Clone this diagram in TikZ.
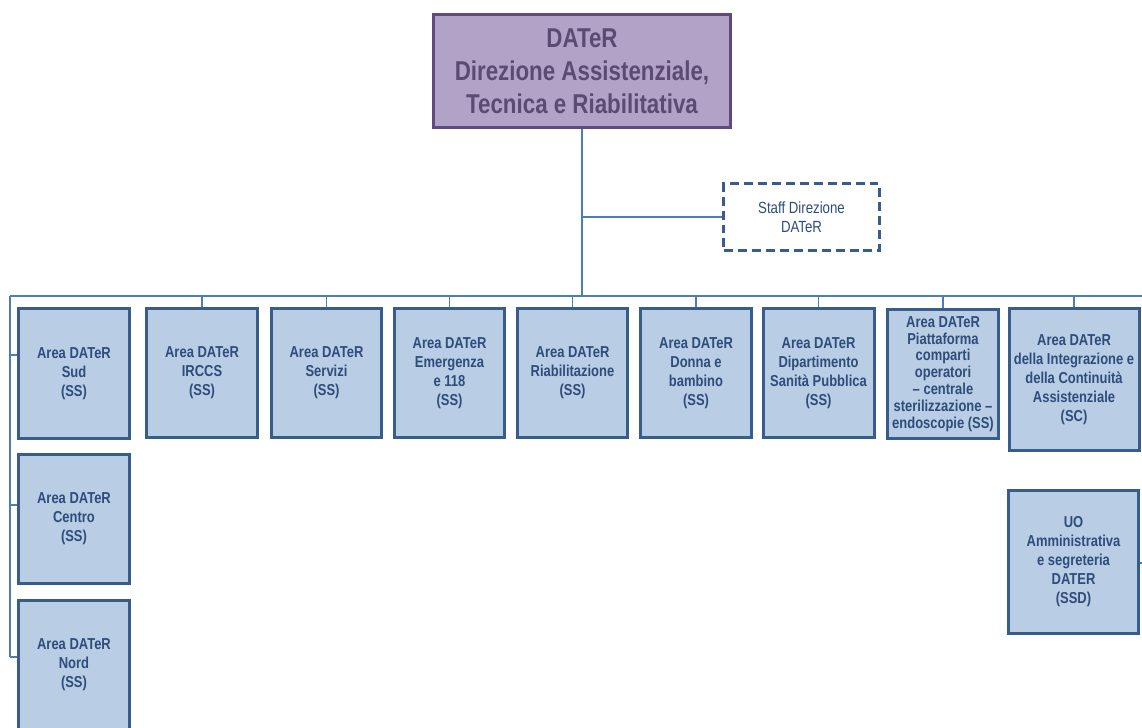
\documentclass[tikz,border=0pt]{standalone}
\usepackage{fontspec}
\setmainfont{Liberation Sans}[FakeStretch=0.82]
\definecolor{boxfill}{HTML}{B9CDE5}
\definecolor{boxline}{HTML}{385D8A}
\definecolor{boxtext}{HTML}{2E4D7B}
\definecolor{wire}{HTML}{4A7EBB}
\definecolor{dirfill}{HTML}{B3A2C7}
\definecolor{dirline}{HTML}{604A7B}
\definecolor{dirtext}{HTML}{5C4A72}
\begin{document}
\begin{tikzpicture}[x=0.02cm, y=-0.02cm,
    area/.style = {draw=boxline, fill=boxfill, line width=0.06cm, inner sep=0pt,
                   minimum width=2.22cm, minimum height=2.6cm, align=center,
                   text=boxtext, font=\bfseries\fontsize{9}{10.8}\selectfont},
    wide/.style = {area, minimum width=2.6cm, minimum height=2.86cm},
    wire/.style = {draw=wire, line width=0.03cm}]
    \clip (0,0) rectangle (1142,727);
    \fill[white] (0,0) rectangle (1142,727);
    % direzione e staff
    \node[draw=dirline, fill=dirfill, line width=0.06cm, minimum width=5.94cm, minimum height=2.26cm,
          align=center, text=dirtext, font=\bfseries\fontsize{15.5}{18.7}\selectfont]
          (dir) at (582,71) {DATeR\\Direzione Assistenziale,\\Tecnica e Riabilitativa};
    \node[draw=boxline, dashed, dash pattern=on 0.18cm off 0.1cm, line width=0.06cm,
          minimum width=3.12cm, minimum height=1.34cm, align=center, text=boxtext,
          font=\fontsize{9.2}{10.8}\selectfont]
          (staff) at (801.5,217) {Staff Direzione\\DATeR};
    % prima riga
    \node[area] (sud) at (74,373.5) {Area DATeR\\Sud\\(SS)};
    \node[area] (irccs) at (202,373) {Area DATeR\\IRCCS\\(SS)};
    \node[area] (servizi) at (326.5,373) {Area DATeR\\Servizi\\(SS)};
    \node[area] (emerg) at (449.5,373) {Area DATeR\\Emergenza\\e 118\\(SS)};
    \node[area] (riab) at (572.5,373) {Area DATeR\\Riabilitazione\\(SS)};
    \node[area] (donna) at (696,373) {Area DATeR\\Donna e\\bambino\\(SS)};
    \node[area] (dip) at (818.5,373) {Area DATeR\\Dipartimento\\Sanità Pubblica\\(SS)};
    \node[area, font=\bfseries\fontsize{9}{9.6}\selectfont] (piatt) at (943,374)
          {Area DATeR\\Piattaforma\\comparti\\operatori\\– centrale\\sterilizzazione –\\endoscopie (SS)};
    \node[wide] (integr) at (1074,379.5) {Area DATeR\\della Integrazione e\\della Continuità\\Assistenziale\\(SC)};
    \node[wide] (uo) at (1073.5,562) {UO\\Amministrativa\\e segreteria\\DATER\\(SSD)};
    % colonna sinistra
    \node[area] (centro) at (74,519) {Area DATeR\\Centro\\(SS)};
    \node[area] (nord) at (74,665) {Area DATeR\\Nord\\(SS)};
    % collegamenti
    \coordinate (busL) at (10,296);
    \coordinate (busR) at (1150,296);
    \coordinate (l1) at (10,355);
    \coordinate (l2) at (10,505);
    \coordinate (l3) at (10,657);
    \coordinate (uoR) at (1150,563);
    \draw[wire] (busL) -- (busR);
    \draw[wire] (dir.south) -- (dir.south |- busL);
    \draw[wire] (dir.south |- staff.west) -- (staff.west);
    \foreach \b in {irccs,servizi,emerg,riab,donna,dip,piatt,integr}
        \draw[wire] (\b.north) -- (\b.north |- busL);
    \draw[wire] (busL) -- (l3);
    \draw[wire] (l1) -- (l1 -| sud.west);
    \draw[wire] (l2) -- (l2 -| centro.west);
    \draw[wire] (l3) -- (l3 -| nord.west);
    \draw[wire] (uo.east |- uoR) -- (uoR);
\end{tikzpicture}
\end{document}
